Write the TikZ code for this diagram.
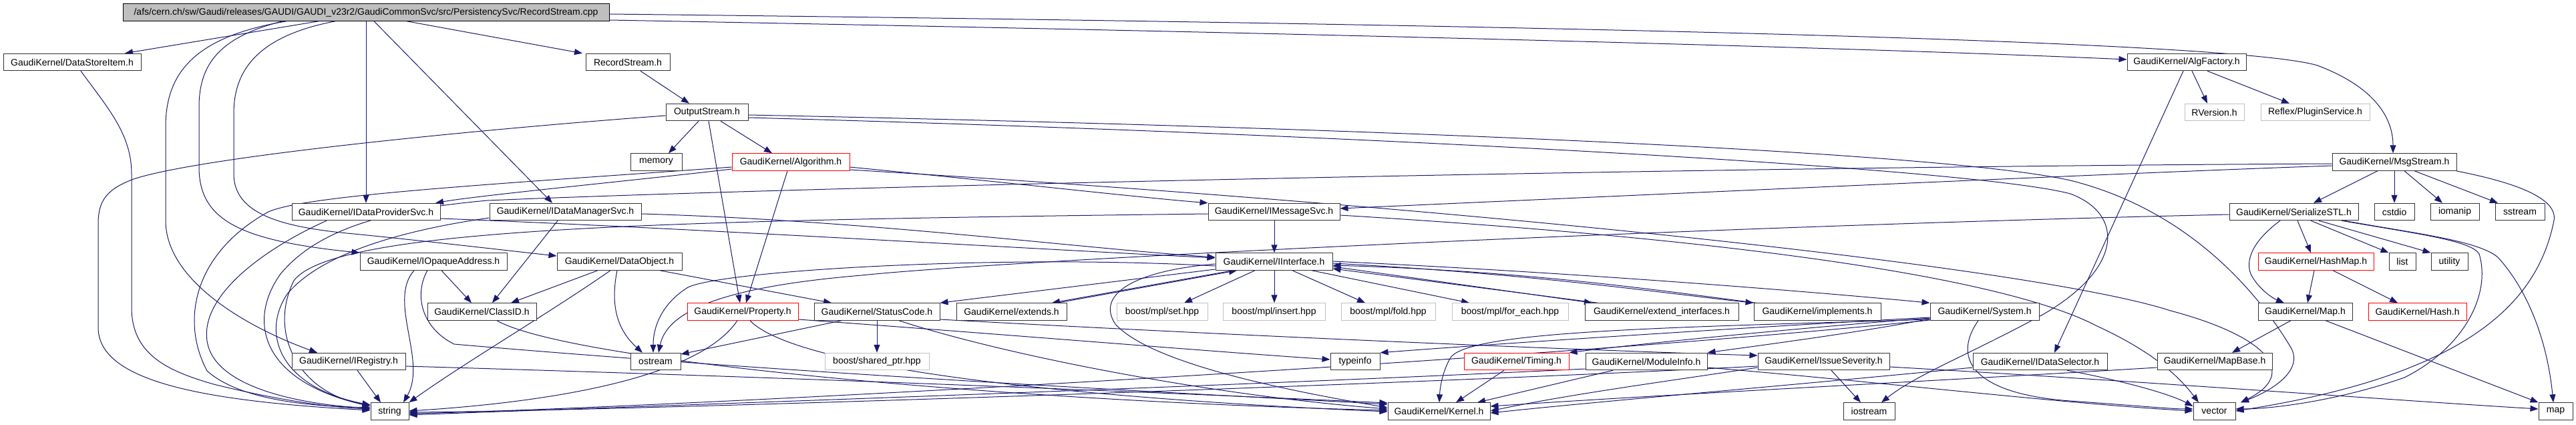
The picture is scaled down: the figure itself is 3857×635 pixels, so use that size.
\documentclass[tikz,border=0pt]{standalone}
\usepackage{fontspec}
\setmainfont{Liberation Sans}
\usetikzlibrary{arrows.meta}
\definecolor{edgec}{HTML}{191970}
\definecolor{rootfill}{HTML}{BFBFBF}
\definecolor{extgray}{HTML}{C0C0C0}
\pgfdeclarelayer{bg}
\pgfsetlayers{bg,main}
\begin{document}
\begin{tikzpicture}[x=1pt,y=-1pt,
  bx/.style={draw=black!80, line width=1pt, fill=white, inner sep=0pt, anchor=center,
             minimum height=25.5pt, font=\fontsize{14}{16}\selectfont},
  rbx/.style={bx, draw=red},
  gbx/.style={bx, draw=extgray},
  e/.style={draw=edgec, line width=1pt, -{Triangle[length=12pt,width=9pt]}}]
\useasboundingbox (0,0) rectangle (3857,635);
% row 1-2
\node[bx, fill=rootfill, draw=black, minimum width=728pt] (root) at (548,18.5) {/afs/cern.ch/sw/Gaudi/releases/GAUDI/GAUDI\_v23r2/GaudiCommonSvc/src/PersistencySvc/RecordStream.cpp};
\node[bx, minimum width=206pt] (dsi) at (108,93) {GaudiKernel/DataStoreItem.h};
\node[bx, minimum width=126pt] (rsh) at (940,93) {RecordStream.h};
\node[bx, minimum width=178pt] (algf) at (3274,93) {GaudiKernel/AlgFactory.h};
% row 3
\node[bx, minimum width=123pt] (ostr) at (1058.5,168) {OutputStream.h};
\node[gbx, minimum width=89pt] (rver) at (3315.5,168) {RVersion.h};
\node[gbx, minimum width=163pt] (plug) at (3466.5,168) {Reflex/PluginService.h};
% row 4
\node[bx, minimum width=77pt] (memory) at (982.5,242.5) {memory};
\node[rbx, minimum width=176pt] (algo) at (1184,242.5) {GaudiKernel/Algorithm.h};
\node[bx, minimum width=186pt] (msgs) at (3585,242.5) {GaudiKernel/MsgStream.h};
% row 5
\node[bx, minimum width=222pt] (idps) at (548,317) {GaudiKernel/IDataProviderSvc.h};
\node[bx, minimum width=227pt] (idms) at (846.5,317) {GaudiKernel/IDataManagerSvc.h};
\node[bx, minimum width=197pt] (imsg) at (1907.5,317) {GaudiKernel/IMessageSvc.h};
\node[bx, minimum width=193pt] (sstl) at (3434.5,317) {GaudiKernel/SerializeSTL.h};
\node[bx, minimum width=60pt] (cstdio) at (3585,317) {cstdio};
\node[bx, minimum width=73pt] (iomanip) at (3675.5,317) {iomanip};
\node[bx, minimum width=74pt] (sstream) at (3773,317) {sstream};
% row 6
\node[bx, minimum width=220pt] (ioa) at (649,391.5) {GaudiKernel/IOpaqueAddress.h};
\node[bx, minimum width=187pt] (dobj) at (927.5,391.5) {GaudiKernel/DataObject.h};
\node[bx, minimum width=175pt] (iint) at (1907.5,391.5) {GaudiKernel/IInterface.h};
\node[rbx, minimum width=173pt] (hmap) at (3467.5,391.5) {GaudiKernel/HashMap.h};
\node[bx, minimum width=40pt] (list) at (3597,391.5) {list};
\node[bx, minimum width=55pt] (utility) at (3667.5,391.5) {utility};
% row 7
\node[bx, minimum width=163pt] (clid) at (721.5,466.5) {GaudiKernel/ClassID.h};
\node[rbx, minimum width=166pt] (prop) at (1112,466.5) {GaudiKernel/Property.h};
\node[bx, minimum width=188pt] (stc) at (1313,466.5) {GaudiKernel/StatusCode.h};
\node[bx, minimum width=165pt] (ext) at (1514.5,466.5) {GaudiKernel/extends.h};
\node[gbx, minimum width=136pt] (mset) at (1740,466.5) {boost/mpl/set.hpp};
\node[gbx, minimum width=153pt] (mins) at (1907.5,466.5) {boost/mpl/insert.hpp};
\node[gbx, minimum width=141pt] (mfold) at (2078.5,466.5) {boost/mpl/fold.hpp};
\node[gbx, minimum width=174pt] (mfe) at (2261,466.5) {boost/mpl/for\_each.hpp};
\node[bx, minimum width=230pt] (extif) at (2488,466.5) {GaudiKernel/extend\_interfaces.h};
\node[bx, minimum width=190pt] (impl) at (2721,466.5) {GaudiKernel/implements.h};
\node[bx, minimum width=163pt] (sysh) at (2971.5,466.5) {GaudiKernel/System.h};
\node[bx, minimum width=141pt] (maph) at (3451.5,466.5) {GaudiKernel/Map.h};
\node[rbx, minimum width=147pt] (hash) at (3619.5,466.5) {GaudiKernel/Hash.h};
% row 8
\node[bx, minimum width=170pt] (ireg) at (522,541) {GaudiKernel/IRegistry.h};
\node[bx, minimum width=75pt] (ostrm) at (981.5,541) {ostream};
\node[gbx, minimum width=156pt] (shptr) at (1313,541) {boost/shared\_ptr.hpp};
\node[bx, minimum width=74pt] (typeinfo) at (2029,541) {typeinfo};
\node[rbx, minimum width=157pt] (timing) at (2270.5,541) {GaudiKernel/Timing.h};
\node[bx, minimum width=182pt] (modinfo) at (2465,541) {GaudiKernel/ModuleInfo.h};
\node[bx, minimum width=197pt] (isev) at (2730.5,541) {GaudiKernel/IssueSeverity.h};
\node[bx, minimum width=201pt] (idsel) at (3054.5,541) {GaudiKernel/IDataSelector.h};
\node[bx, minimum width=172pt] (mapbase) at (3316,541) {GaudiKernel/MapBase.h};
% row 9
\node[bx, minimum width=57pt] (string) at (583.5,615.5) {string};
\node[bx, minimum width=153pt] (kernel) at (2154.5,615.5) {GaudiKernel/Kernel.h};
\node[bx, minimum width=77pt] (iostream) at (2798.5,615.5) {iostream};
\node[bx, minimum width=63pt] (vector) at (3315.5,615.5) {vector};
\node[bx, minimum width=51pt] (map) at (3826.5,615.5) {map};

\begin{pgfonlayer}{bg}
% ---- edges: root
\draw[e] (root.south -| 477,0) -- (dsi.north -| 187,0);
\draw[e] (root.south -| 609,0) -- (rsh.north -| 872,0);
\draw[e] (root.east |- 0,30) .. controls (2000,50) and (2800,72) .. (algf.west |- 0,89);
\draw[e] (root.east |- 0,21) .. controls (2400,38) and (3350,62) .. (3470,98) .. controls (3560,132) and (3583,180) .. (msgs.north -| 3583,0);
\draw[e] (root.south -| 548,0) -- (idps.north -| 548,0);
\draw[e] (root.south -| 560,0) -- (idms.north -| 827,0);
\draw[e] (root.south -| 423,0) .. controls (330,55) and (298,95) .. (298,160) -- (298,250) .. controls (298,330) and (360,360) .. (ioa.north west);
\draw[e] (root.south -| 429,0) .. controls (290,55) and (248,110) .. (248,190) -- (248,330) .. controls (248,420) and (370,490) .. (ireg.north -| 475,0);
\draw[e] (root.south -| 502,0) .. controls (380,55) and (350,110) .. (350,170) -- (350,260) .. controls (350,320) and (420,340) .. (530,350) .. controls (650,362) and (760,375) .. (dobj.west |- 0,383);
% dsi, rsh
\draw[e] (dsi.south -| 121,0) .. controls (160,160) and (197,200) .. (197,260) -- (197,460) .. controls (197,530) and (250,555) .. (320,575) .. controls (420,600) and (500,610) .. (string.west |- 0,612);
\draw[e] (rsh.south -| 959,0) -- (ostr.north -| 1032,0);
% ostr
\draw[e] (ostr.south -| 1046,0) -- (memory.north -| 1001,0);
\draw[e] (ostr.south -| 1079,0) -- (algo.north -| 1156,0);
\draw[e] (ostr.south -| 1061,0) -- (prop.north -| 1108,0);
\draw[e] (ostr.west |- 0,173) .. controls (700,195) and (300,235) .. (200,268) .. controls (160,283) and (147,300) .. (147,335) -- (147,490) .. controls (147,570) and (300,600) .. (string.west |- 0,614);
\draw[e] (ostr.east |- 0,172) .. controls (2000,190) and (2900,225) .. (3100,270) .. controls (3300,320) and (3400,470) .. (3430,520) .. controls (3450,555) and (3400,585) .. (vector.north -| 3355,0);
\draw[e] (ostr.east |- 0,176) .. controls (2000,200) and (2950,250) .. (3100,290) .. controls (3180,320) and (3180,400) .. (3060,470) .. controls (2950,530) and (2870,560) .. (iostream.north -| 2817,0);
% algf
\draw[e] (algf.south -| 3282,0) -- (rver.north -| 3305,0);
\draw[e] (algf.south -| 3305,0) -- (plug.north -| 3428,0);
\draw[e] (algf.south -| 3269,0) -- (idsel.north -| 3076,0);
% algo
\draw[e] (algo.south -| 1179,0) -- (prop.north -| 1117,0);
\draw[e] (algo.west |- 0,253) .. controls (950,270) and (720,292) .. (idps.north -| 652,0);
\draw[e] (algo.west |- 0,250) .. controls (750,275) and (450,292) .. (400,318) .. controls (290,380) and (270,480) .. (310,555) .. controls (360,600) and (470,608) .. (string.west |- 0,610);
\draw[e] (algo.east |- 0,250) .. controls (1500,272) and (1700,295) .. (imsg.north west);
\draw[e] (algo.east |- 0,254) .. controls (2200,310) and (3050,400) .. (3250,465) .. controls (3400,505) and (3440,560) .. (vector.north -| 3355,0);
% msgs
\draw[e] (msgs.west |- 0,248) .. controls (3200,258) and (2500,290) .. (imsg.east |- 0,312);
\draw[e] (msgs.west |- 0,245) .. controls (2500,250) and (1200,280) .. (730,300) .. controls (560,315) and (470,350) .. (420,410) .. controls (370,480) and (390,570) .. (string.west |- 0,608);
\draw[e] (msgs.south -| 3560,0) -- (sstl.north -| 3464,0);
\draw[e] (msgs.south -| 3585,0) -- (cstdio.north -| 3585,0);
\draw[e] (msgs.south -| 3600,0) -- (iomanip.north -| 3657,0);
\draw[e] (msgs.south -| 3615,0) -- (sstream.north -| 3740,0);
\draw[e] (msgs.east |- 0,256) .. controls (3760,272) and (3830,295) .. (3824,330) .. controls (3800,450) and (3700,560) .. (vector.east |- 0,615);
% imsg
\draw[e] (imsg.south -| 1908,0) -- (iint.north -| 1908,0);
\draw[e] (imsg.west |- 0,320) .. controls (1000,330) and (500,340) .. (440,420) .. controls (400,500) and (450,590) .. (string.west |- 0,606);
\draw[e] (imsg.east |- 0,322) .. controls (2600,358) and (3000,415) .. (3140,488) .. controls (3220,525) and (3260,560) .. (vector.north -| 3292,0);
% sstl
\draw[e] (sstl.south -| 3440,0) -- (hmap.north -| 3460,0);
\draw[e] (sstl.south -| 3414,0) .. controls (3380,355) and (3360,385) .. (3370,410) .. controls (3380,430) and (3400,445) .. (maph.north -| 3420,0);
\draw[e] (sstl.south -| 3460,0) -- (list.north west);
\draw[e] (sstl.south -| 3472,0) -- (utility.north west);
\draw[e] (sstl.south -| 3510,0) .. controls (3620,350) and (3710,360) .. (3740,385) .. controls (3790,440) and (3815,520) .. (map.north -| 3823,0);
\draw[e] (sstl.south -| 3506,0) .. controls (3620,350) and (3700,360) .. (3712,380) .. controls (3730,440) and (3690,520) .. (3600,565) .. controls (3500,600) and (3400,612) .. (vector.east |- 0,612);
\draw[e] (sstl.west |- 0,321) .. controls (2500,340) and (1500,390) .. (1290,412) .. controls (1100,428) and (1000,460) .. (ostrm.north -| 986,0);
% hmap, maph, mapbase
\draw[e] (hmap.south -| 3465,0) -- (maph.north -| 3455,0);
\draw[e] (hmap.south -| 3493,0) -- (hash.north -| 3590,0);
\draw[e] (maph.south -| 3430,0) -- (mapbase.north -| 3342,0);
\draw[e] (maph.south -| 3482,0) -- (map.north west);
\draw[e] (mapbase.west |- 0,550) .. controls (2900,570) and (2500,590) .. (kernel.east |- 0,608);
% idps, idms
\draw[e] (idps.east |- 0,327) .. controls (1000,340) and (1500,370) .. (iint.west |- 0,386);
\draw[e] (idps.south -| 489,0) .. controls (400,370) and (300,440) .. (310,510) .. controls (320,580) and (450,605) .. (string.west |- 0,611);
\draw[e] (idms.south -| 835,0) -- (clid.north -| 737,0);
\draw[e] (idms.east |- 0,320) .. controls (1300,330) and (1600,370) .. (iint.west |- 0,385);
\draw[e] (idms.west |- 0,326) .. controls (600,345) and (480,380) .. (430,440) .. controls (390,500) and (420,580) .. (string.west |- 0,606);
% ioa
\draw[e] (ioa.south -| 661,0) -- (clid.north -| 706,0);
\draw[e] (ioa.south -| 640,0) .. controls (620,440) and (630,490) .. (680,515) .. controls (1200,560) and (1800,590) .. (kernel.west |- 0,605);
\draw[e] (ioa.south -| 620,0) .. controls (580,450) and (640,540) .. (string.north -| 604,0);
% dobj
\draw[e] (dobj.south -| 895,0) -- (clid.north -| 765,0);
\draw[e] (dobj.south -| 924,0) .. controls (915,450) and (920,490) .. (ostrm.north -| 962,0);
\draw[e] (dobj.south -| 914,0) .. controls (820,470) and (700,540) .. (string.north east);
\draw[e] (dobj.south -| 988,0) -- (stc.north -| 1245,0);
% ireg
\draw[e] (ireg.south -| 535,0) -- (string.north -| 570,0);
\draw[e] (ireg.east |- 0,548) .. controls (1200,565) and (1800,590) .. (kernel.west |- 0,603);
% iint
\draw[e] (iint.west |- 0,403) -- (stc.north east);
\draw[e] (iint.south -| 1846,0) -- (ext.north -| 1575,0);
\draw[e] (ext.north -| 1583,0) -- (iint.south -| 1852,0);
\draw[e] (iint.south -| 1879,0) -- (mset.north -| 1773,0);
\draw[e] (iint.south -| 1908,0) -- (mins.north -| 1908,0);
\draw[e] (iint.south -| 1935,0) -- (mfold.north -| 2044,0);
\draw[e] (iint.south -| 1964,0) -- (mfe.north -| 2200,0);
\draw[e] (iint.east |- 0,399) -- (extif.north -| 2384,0);
\draw[e] (extif.north -| 2392,0) -- (iint.east |- 0,402);
\draw[e] (iint.east |- 0,394) .. controls (2300,410) and (2500,440) .. (impl.north west);
\draw[e] ([xshift=4pt]impl.north west) .. controls (2500,437) and (2300,406) .. (iint.east |- 0,397);
\draw[e] (iint.east |- 0,391) .. controls (2400,410) and (2750,440) .. (sysh.north west);
\draw[e] (iint.west |- 0,395) .. controls (1700,405) and (1640,440) .. (1670,485) .. controls (1720,540) and (1900,580) .. (kernel.west |- 0,610);
\draw[e] (iint.west |- 0,398) .. controls (1500,380) and (1080,405) .. (1030,430) .. controls (990,455) and (978,490) .. (ostrm.north -| 978,0);
% stc
\draw[e] (stc.south -| 1260,0) -- (ostrm.east |- 0,530);
\draw[e] (stc.south -| 1313,0) -- (shptr.north -| 1313,0);
\draw[e] (stc.south -| 1346,0) .. controls (1500,530) and (1800,590) .. (kernel.west |- 0,612);
\draw[e] (stc.east |- 0,478) .. controls (1900,505) and (2400,525) .. (isev.west |- 0,532);
% clid, prop
\draw[e] (clid.south -| 744,0) .. controls (850,540) and (1500,600) .. (kernel.west |- 0,614);
\draw[e] (prop.south -| 1104,0) .. controls (1050,560) and (850,600) .. (string.east |- 0,615);
\draw[e] (prop.south -| 1123,0) .. controls (1200,560) and (1700,600) .. (kernel.west |- 0,616);
\draw[e] (prop.east |- 0,478) .. controls (1500,500) and (1800,525) .. (typeinfo.west |- 0,538);
% sysh
\draw[e] (sysh.west |- 0,475) .. controls (2700,485) and (2300,510) .. (typeinfo.north east);
\draw[e] (sysh.west |- 0,476) .. controls (2700,490) and (2450,515) .. (timing.north east);
\draw[e] (sysh.west |- 0,477) .. controls (2800,495) and (2650,515) .. (modinfo.north east);
\draw[e] (sysh.west |- 0,478) .. controls (2500,490) and (2200,495) .. (2172,535) .. controls (2160,555) and (2156,580) .. (kernel.north -| 2155,0);
\draw[e] (sysh.west |- 0,479) .. controls (2300,540) and (1000,610) .. (string.east |- 0,619);
\draw[e] (sysh.south -| 2962,0) .. controls (2920,540) and (2960,590) .. (3100,600) .. controls (3200,607) and (3250,612) .. (vector.west |- 0,612);
% timing, modinfo
\draw[e] (timing.south -| 2252,0) -- (kernel.north -| 2180,0);
\draw[e] (modinfo.south -| 2415,0) -- (kernel.north -| 2212,0);
\draw[e] (modinfo.west |- 0,552) .. controls (1800,580) and (900,610) .. (string.east |- 0,621);
\draw[e] (modinfo.east |- 0,550) .. controls (2800,570) and (3100,605) .. (vector.west |- 0,615);
% isev
\draw[e] (isev.south -| 2742,0) -- (iostream.north -| 2786,0);
\draw[e] (isev.east |- 0,549) .. controls (3200,570) and (3600,600) .. (map.west |- 0,612);
\draw[e] (isev.west |- 0,550) .. controls (2500,570) and (2350,590) .. (kernel.east |- 0,615);
\draw[e] (isev.west |- 0,548) .. controls (2000,580) and (900,615) .. (string.east |- 0,617);
% idsel
\draw[e] (idsel.south -| 3095,0) .. controls (3180,570) and (3250,590) .. (vector.west |- 0,608);
\draw[e] (idsel.west |- 0,550) .. controls (2700,575) and (2400,600) .. (kernel.east |- 0,618);
\end{pgfonlayer}
\end{tikzpicture}
\end{document}
